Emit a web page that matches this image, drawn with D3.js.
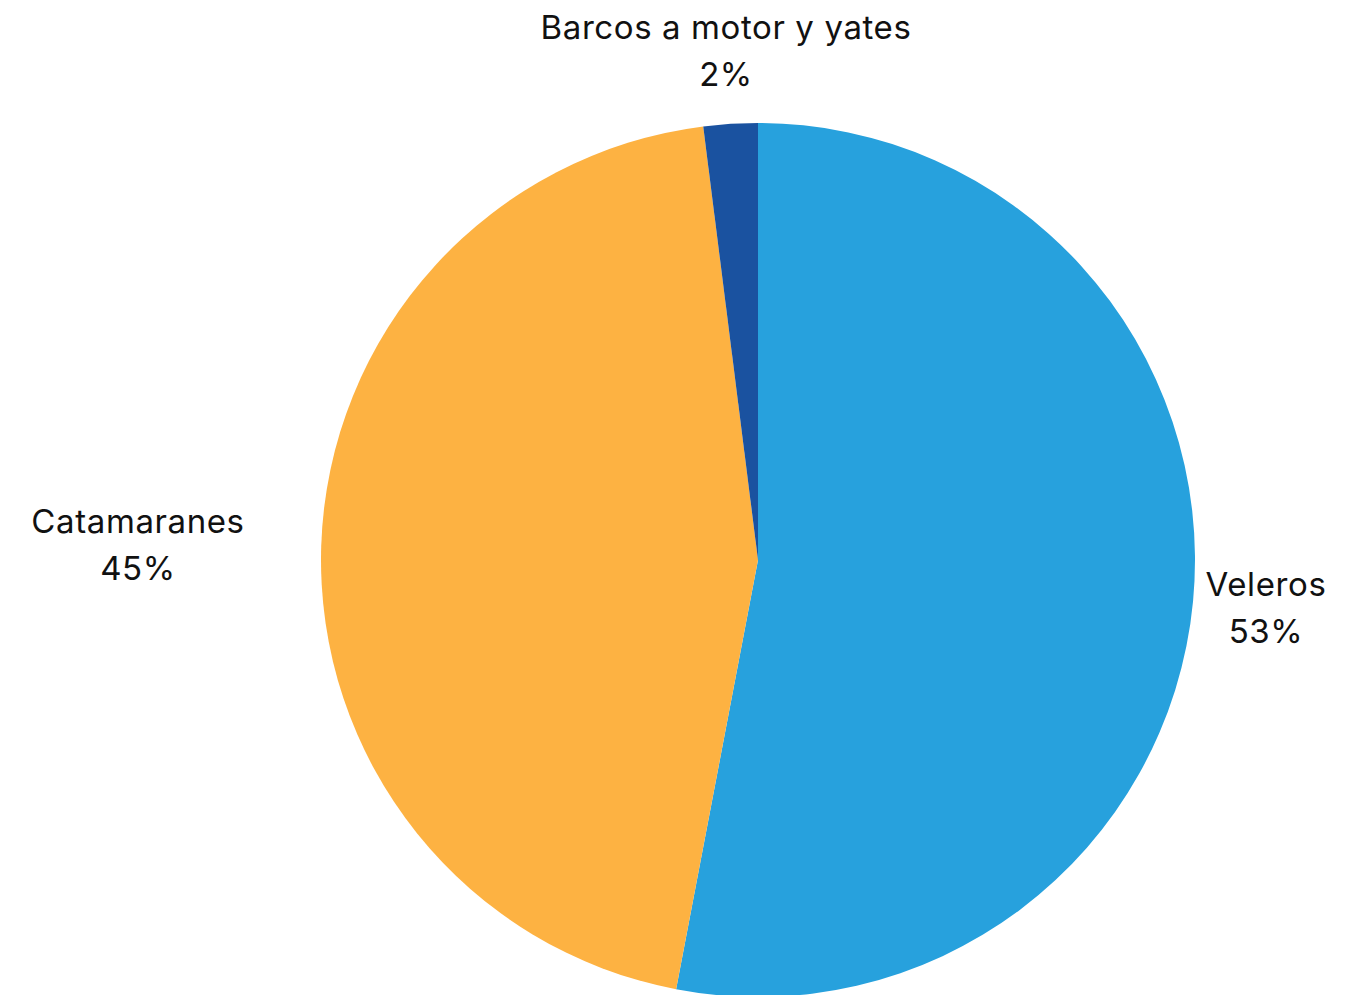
<!DOCTYPE html>
<html>
<head>
<meta charset="utf-8">
<script src="https://cdn.jsdelivr.net/npm/d3@7"></script>
<style>
  body { margin: 0; background: #fff; }
  svg { display: block; }
  text { font-family: Inter, "Noto Sans", sans-serif; font-size: 33px; letter-spacing: 0.6px; fill: #111; }
</style>
</head>
<body>
<svg id="chart" width="1357" height="995"></svg>
<script>
// data
var categories = ["Veleros", "Catamaranes", "Barcos a motor y yates"];
var shares = [53, 45, 2];
var colors = ["#27a1dd", "#fdb242", "#1a52a0"];

// label anchor positions (centre of the two text lines)
var labelPos = [[1266, 608], [138, 545], [726, 51]];

var svg = d3.select("#chart");
var cx = 758, cy = 560, r = 437;

var pie = d3.pie().sort(null).value(d => d);
var arc = d3.arc().innerRadius(0).outerRadius(r);

var slices = pie(shares);

svg.append("g")
  .attr("transform", "translate(" + cx + "," + cy + ")")
  .selectAll("path")
  .data(slices)
  .enter()
  .append("path")
  .attr("d", arc)
  .attr("fill", (d, i) => colors[i]);

var labels = svg.selectAll("g.lbl")
  .data(slices)
  .enter()
  .append("g")
  .attr("class", "lbl")
  .attr("transform", (d, i) => "translate(" + labelPos[i][0] + "," + labelPos[i][1] + ")");

labels.append("text")
  .attr("text-anchor", "middle")
  .attr("y", -12)
  .text((d, i) => categories[i]);

labels.append("text")
  .attr("text-anchor", "middle")
  .attr("y", 35)
  .text(d => d.data + "%");
</script>
</body>
</html>
